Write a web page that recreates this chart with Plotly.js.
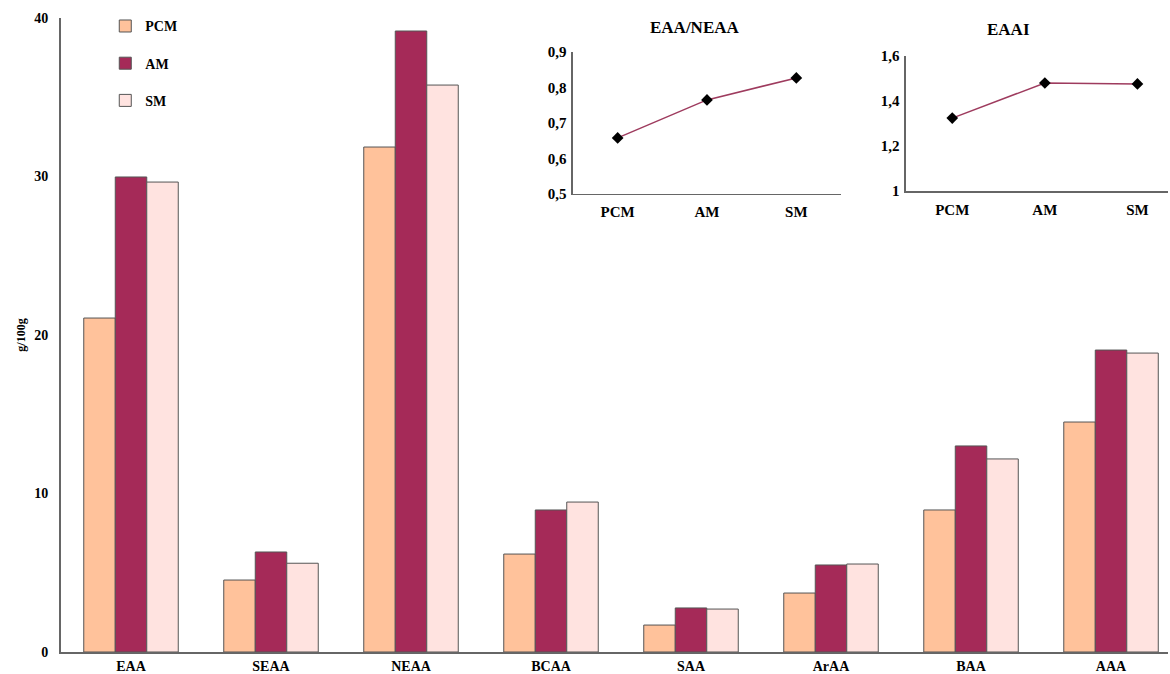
<!DOCTYPE html>
<html><head><meta charset="utf-8">
<script src="https://cdn.plot.ly/plotly-3.0.1.min.js"></script>
<style>body{margin:0;background:#fff}#c{width:1170px;height:674px}</style>
</head><body><div id="c"></div>
<script>
const categories = ["EAA","SEAA","NEAA","BCAA","SAA","ArAA","BAA","AAA"];
const PCM = [21.07, 4.54, 31.86, 6.18, 1.70, 3.72, 8.96, 14.51];
const AM  = [29.97, 6.31, 39.18, 8.96, 2.78, 5.49, 13.00, 19.05];
const SM  = [29.65, 5.60, 35.77, 9.46, 2.71, 5.55, 12.18, 18.86];
const groups = ["PCM","AM","SM"];
const ratioEAA_NEAA = [0.658, 0.765, 0.827];
const EAAI = [1.324, 1.480, 1.476];

const font = {family:"Liberation Serif, Times New Roman, serif", color:"#000"};
const cols = ["#FFC29B","#A52A58","#FFE3E0"];
const mk = (name, y, c)=>({type:'bar', name:'<b>'+name+'</b>', x:categories, y:y, legendgroup:name,
  marker:{color:c, line:{color:'#555', width:1}}, xaxis:'x', yaxis:'y'});
const lineColor = '#9E3B5E';
const traces = [
  mk("PCM", PCM, cols[0]), mk("AM", AM, cols[1]), mk("SM", SM, cols[2]),
  {type:'scatter', mode:'lines+markers', x:groups, y:ratioEAA_NEAA, xaxis:'x2', yaxis:'y2', showlegend:false,
   line:{color:lineColor, width:1.5}, marker:{symbol:'diamond', size:9, color:'#000'}},
  {type:'scatter', mode:'lines+markers', x:groups, y:EAAI, xaxis:'x3', yaxis:'y3', showlegend:false,
   line:{color:lineColor, width:1.5}, marker:{symbol:'diamond', size:9, color:'#000'}}
];
const tf = Object.assign({}, font, {size:14, weight:'bold'});
const tfs = Object.assign({}, font, {size:15, weight:'bold'});
const axLine = '#666';
const layout = {
  width:1170, height:674, paper_bgcolor:'#fff', plot_bgcolor:'rgba(0,0,0,0)',
  margin:{l:61, r:2, t:18, b:22},
  separators:', ',
  barmode:'group', bargap:0.325, bargroupgap:0,
  showlegend:true,
  legend:{x:0.04, y:1.012, xanchor:'left', yanchor:'top', font:Object.assign({}, font, {size:14}),
    tracegroupgap:16, bgcolor:'rgba(0,0,0,0)', itemwidth:30},
  xaxis:{domain:[0,1], range:[-0.5,7.407], showline:true, linecolor:axLine, linewidth:2, ticks:'',
    tickfont:tf, showgrid:false, zeroline:false, fixedrange:true},
  yaxis:{domain:[0,1], range:[0,40], dtick:10, showline:true, linecolor:axLine, linewidth:2, ticks:'',
    tickfont:tf, showgrid:false, zeroline:false, ticklabelstandoff:8,
    title:{text:'<b>g/100g</b>', font:Object.assign({}, font, {size:12}), standoff:6}},
  xaxis2:{domain:[0.4625,0.7046], range:[-0.5,2.5], anchor:'y2', showline:true, linecolor:axLine, linewidth:1.5,
    ticks:'', tickfont:tfs, showgrid:false, zeroline:false, ticklabelstandoff:4},
  yaxis2:{domain:[0.7224,0.9464], range:[0.5,0.9], dtick:0.1, anchor:'x2', showline:true, linecolor:axLine, linewidth:1.5,
    ticks:'', tickfont:tfs, showgrid:false, zeroline:false, ticklabelstandoff:2},
  xaxis3:{domain:[0.7633,1.0], range:[-0.5,2.33], anchor:'y3', showline:true, linecolor:axLine, linewidth:1.5,
    ticks:'', tickfont:tfs, showgrid:false, zeroline:false, ticklabelstandoff:4},
  yaxis3:{domain:[0.7271,0.9401], range:[1,1.6], dtick:0.2, anchor:'x3', showline:true, linecolor:axLine, linewidth:1.5,
    ticks:'', tickfont:tfs, showgrid:false, zeroline:false, ticklabelstandoff:2},
  annotations:[
    {text:'<b>EAA/NEAA</b>', xref:'paper', yref:'paper', x:0.5727, y:0.9858, yanchor:'middle', showarrow:false, font:Object.assign({}, font, {size:17})},
    {text:'<b>EAAI</b>', xref:'paper', yref:'paper', x:0.8772, y:0.9826, yanchor:'middle', showarrow:false, font:Object.assign({}, font, {size:17})}
  ]
};
Plotly.newPlot('c', traces, layout, {displayModeBar:false, staticPlot:true});
</script></body></html>
